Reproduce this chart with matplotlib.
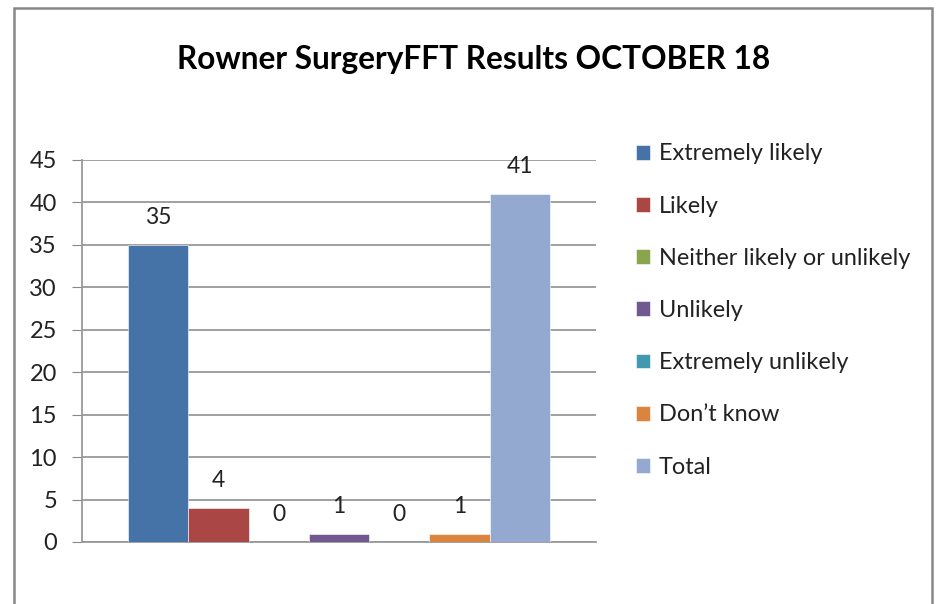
import matplotlib.pyplot as plt
from matplotlib.patches import Rectangle
import numpy as np

# survey categories and counts
categories = ['Extremely likely', 'Likely', 'Neither likely or unlikely', 'Unlikely',
              'Extremely unlikely', 'Don\u2019t know', 'Total']
counts = [35, 4, 0, 1, 0, 1, 41]
colors = ['#4572A7', '#AA4643', '#89A54E', '#71588F', '#4198AF', '#DB843D', '#93A9CF']
yticks = [0, 5, 10, 15, 20, 25, 30, 35, 40, 45]

plt.rcParams['font.family'] = ['Lato', 'DejaVu Sans']

fig = plt.figure(figsize=(9.4, 6.04), dpi=100)
fig.patches.append(Rectangle((14/940, -0.1), (932-14)/940, 1.1 - 8/604,
                             transform=fig.transFigure, fill=False,
                             edgecolor='#888888', linewidth=1.8))

ax = fig.add_axes([82/940, 62/604, (596-82)/940, (542-160)/604])

n = len(counts)
w = 0.82 / n
offsets = (np.arange(n) - (n - 1) / 2) * w
for i in range(n):
    ax.bar(offsets[i], counts[i], width=w, color=colors[i], label=categories[i],
           edgecolor='white', linewidth=0.4, zorder=3)
    ax.annotate(str(counts[i]), (offsets[i], counts[i]), xytext=(0, 12),
                textcoords='offset points', ha='center', va='bottom',
                fontsize=16.5, color='#222222')

ax.set_xlim(-0.5, 0.5)
ax.set_ylim(0, 45)
ax.set_yticks(yticks)
ax.set_xticks([])
ax.tick_params(axis='y', labelsize=17, length=7, color='#888888', labelcolor='#222222', pad=11)
ax.grid(axis='y', color='#999999', linewidth=1.3, zorder=0)
for s in ['top', 'right']:
    ax.spines[s].set_visible(False)
for s in ['left', 'bottom']:
    ax.spines[s].set_color('#999999')
    ax.spines[s].set_linewidth(1.3)

fig.text(474/940, 1 - 60/604, 'Rowner SurgeryFFT Results OCTOBER 18', ha='center', va='center',
         fontsize=22.8, fontweight='bold', color='black')

leg = fig.legend(loc='upper left', bbox_to_anchor=(627/940, 1 - 134/604), frameon=False,
                 fontsize=16.9, handlelength=0.6, handleheight=0.6, handletextpad=0.35,
                 labelspacing=1.33, borderaxespad=0)
for t in leg.get_texts():
    t.set_color('#222222')

fig.savefig('out.png', dpi=100)
